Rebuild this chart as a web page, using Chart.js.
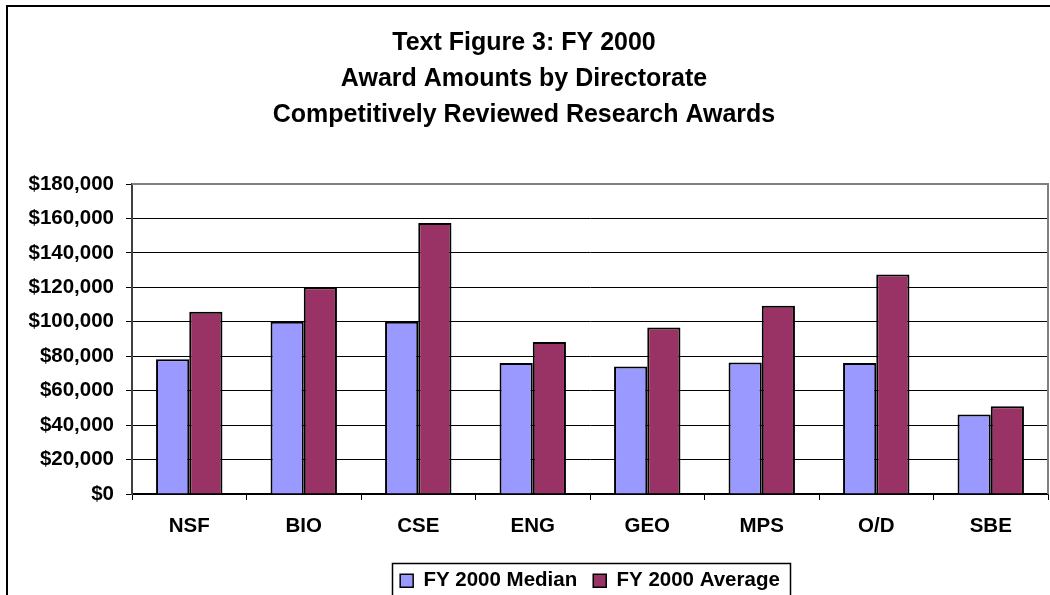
<!DOCTYPE html>
<html>
<head>
<meta charset="utf-8">
<script src="https://cdn.jsdelivr.net/npm/chart.js@4/dist/chart.umd.min.js"></script>
<style>
  html, body { margin: 0; padding: 0; background: #fff; }
  #wrap { width: 1050px; height: 595px; position: relative; }
</style>
</head>
<body>
<div id="wrap"><canvas id="c" width="1050" height="595"></canvas></div>
<script>
const titleLines = ["Text Figure 3: FY 2000", "Award Amounts by Directorate", "Competitively Reviewed Research Awards"];
const categories = ["NSF", "BIO", "CSE", "ENG", "GEO", "MPS", "O/D", "SBE"];
const medianLabel = "FY 2000 Median";
const averageLabel = "FY 2000 Average";
const medianValues = [78300, 100000, 100000, 76000, 74100, 76400, 76000, 46200];
const averageValues = [105800, 120000, 157400, 88200, 96700, 109300, 127500, 50900];
const yMin = 0, yMax = 180000, yStep = 20000;

const FONT = "'Liberation Sans', Arial, Helvetica, sans-serif";

const framePlugin = {
  id: 'frame',
  afterLayout(chart) {
    const lg = chart.legend;
    if (lg) {
      lg.left = chart.chartArea.left;
      lg.right = chart.chartArea.right;
      lg.top += 6;
      lg.bottom += 6;
    }
  },
  beforeDraw(chart) {
    const ctx = chart.ctx;
    ctx.save();
    ctx.fillStyle = '#fff';
    ctx.fillRect(0, 0, chart.width, chart.height);
    ctx.restore();
  },
  afterDraw(chart) {
    const ctx = chart.ctx;
    const a = chart.chartArea;
    ctx.save();
    ctx.strokeStyle = '#000';
    ctx.lineWidth = 2;
    ctx.strokeRect(7, 6, chart.width + 20, chart.height + 20);
    ctx.strokeStyle = '#808080';
    ctx.lineWidth = 2;
    ctx.beginPath();
    ctx.moveTo(a.left, a.top);
    ctx.lineTo(a.right, a.top);
    ctx.lineTo(a.right, a.bottom);
    ctx.stroke();
    const lg = chart.legend;
    if (lg && lg.legendHitBoxes && lg.legendHitBoxes.length) {
      const hb = lg.legendHitBoxes;
      let l = Infinity, r = -Infinity, t = Infinity, b = -Infinity;
      hb.forEach(h => { l = Math.min(l, h.left); r = Math.max(r, h.left + h.width); t = Math.min(t, h.top); b = Math.max(b, h.top + h.height); });
      ctx.strokeStyle = '#000';
      ctx.lineWidth = 1.5;
      ctx.strokeRect(Math.round(l - 8) + 0.5, Math.round(t - 8) + 0.5, Math.round(r - l + 18), Math.round(b - t + 12));
    }
    ctx.restore();
  }
};

new Chart(document.getElementById('c'), {
  type: 'bar',
  data: {
    labels: categories,
    datasets: [
      { label: medianLabel, data: medianValues, backgroundColor: '#9999FF', borderColor: '#000', borderWidth: 2 },
      { label: averageLabel, data: averageValues, backgroundColor: '#993366', borderColor: '#000', borderWidth: 2 }
    ]
  },
  options: {
    responsive: false,
    animation: false,
    devicePixelRatio: 1,
    layout: { padding: { left: 0, right: 2, top: 0, bottom: 0 } },
    datasets: { bar: { categoryPercentage: 0.58, barPercentage: 1.0 } },
    plugins: {
      tooltip: { enabled: false },
      title: {
        display: true,
        text: titleLines,
        color: '#000',
        font: { family: FONT, size: 25, weight: 'bold', lineHeight: 1.44 },
        padding: { top: 25, bottom: 51 }
      },
      legend: {
        display: true,
        position: 'bottom',
        labels: {
          color: '#000',
          font: { family: FONT, size: 20.5, weight: 'bold' },
          boxWidth: 13,
          boxHeight: 13,
          padding: 16,
          generateLabels(chart) {
            return chart.data.datasets.map((ds, i) => ({
              text: ds.label,
              fillStyle: ds.backgroundColor,
              strokeStyle: '#000',
              lineWidth: 1.5,
              datasetIndex: i,
              hidden: false,
              fontColor: '#000'
            }));
          }
        }
      }
    },
    scales: {
      x: {
        afterFit(scale) { scale.height = 54.5; },
        grid: { display: true, drawOnChartArea: false, drawTicks: true, tickLength: 6, color: '#000', lineWidth: 1, offset: true },
        border: { display: true, color: '#000', width: 1.5 },
        ticks: { color: '#000', padding: 14, font: { family: FONT, size: 20.5, weight: 'bold' }, maxRotation: 0 }
      },
      y: {
        min: yMin, max: yMax,
        afterFit(scale) { scale.width = 132; },
        grid: { color: '#000', lineWidth: 1, tickLength: 6, drawTicks: true },
        border: { display: true, color: '#404040', width: 2 },
        ticks: {
          stepSize: yStep,
          color: '#000',
          padding: 12,
          font: { family: FONT, size: 20.5, weight: 'bold' },
          callback: v => '$' + Number(v).toLocaleString('en-US')
        }
      }
    }
  },
  plugins: [framePlugin]
});
</script>
</body>
</html>
